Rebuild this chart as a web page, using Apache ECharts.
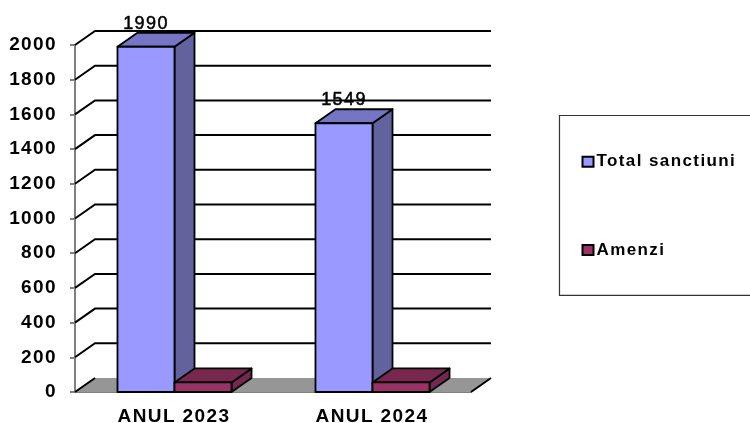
<!DOCTYPE html>
<html>
<head>
<meta charset="utf-8">
<style>html,body{margin:0;padding:0;background:#fff}#c{width:750px;height:423px}</style>
<script>
// The reference text is widely tracked: apply the same tracking to every canvas context.
(function(){var g=HTMLCanvasElement.prototype.getContext;
HTMLCanvasElement.prototype.getContext=function(){var c=g.apply(this,arguments);
if(c&&'letterSpacing' in c){c.letterSpacing='1.4px';}return c;};})();
</script>
<script src="https://cdn.jsdelivr.net/npm/echarts@6/dist/echarts.min.js"></script>
</head>
<body>
<div id="c"></div>
<script>
const categories = ['ANUL 2023', 'ANUL 2024'];
const totalSanctiuni = [1990, 1549];
const amenzi = [55, 55];
const wallTicks = [0, 200, 400, 600, 800, 1000, 1200, 1400, 1600, 1800, 2000];

const DX = 20, DY = -14, BAR_FRACTION = 0.288;
const FONT = '"Liberation Sans", Arial, sans-serif';

function poly(points, fill, stroke, lw) {
  return { type: 'polygon', shape: { points },
    style: { fill: fill, stroke: stroke || null, lineWidth: lw || 0, lineJoin: 'round' } };
}

function wallItem(params, api) {
  const cs = params.coordSys;
  const v = api.value(1);
  const y = api.coord([0, v])[1];
  const x0 = cs.x, x1 = cs.x + cs.width;
  const children = [];
  if (v === 0) {
    children.push(poly([[x0, y], [x0 + DX, y + DY], [x1 + DX, y + DY], [x1, y]], '#969696'));
    children.push({ type: 'line', shape: { x1: x1, y1: y, x2: x1 + DX, y2: y + DY },
      style: { stroke: '#000', lineWidth: 2 } });
  }
  children.push({ type: 'polyline',
    shape: { points: v === 0 ? [[x0, y], [x0 + DX, y + DY]] : [[x0, y], [x0 + DX, y + DY], [x1 + DX, y + DY]] },
    style: { stroke: '#000', lineWidth: 2, fill: null } });
  return { type: 'group', children };
}

function barRenderer(slot, front, top, side, showLabel) {
  return function (params, api) {
    const base = api.coord([api.value(0), 0]);
    const head = api.coord([api.value(0), api.value(1)]);
    const w = api.size([1, 0])[0] * BAR_FRACTION;
    const l = base[0] + slot * w + 0.5, r = l + w;
    const yb = base[1], yt = head[1];
    const s = '#000';
    const children = [
      poly([[r, yb], [r + DX, yb + DY], [r + DX, yt + DY], [r, yt]], side, s, 1.8),
      poly([[l, yt], [l + DX, yt + DY], [r + DX, yt + DY], [r, yt]], top, s, 1.8),
      poly([[l, yb], [l, yt], [r, yt], [r, yb]], front, s, 1.8)
    ];
    if (showLabel) {
      children.push({ type: 'text', x: (l + r) / 2, y: yt - 23,
        style: { text: String(api.value(1)), fill: '#000', font: 'normal 18px ' + FONT,
          stroke: '#000', lineWidth: 0.5,
          textAlign: 'center', textVerticalAlign: 'middle' } });
    }
    return { type: 'group', children };
  };
}

const chart = echarts.init(document.getElementById('c'), null, { renderer: 'canvas' });
chart.setOption({
  animation: false,
  backgroundColor: '#fff',
  grid: { left: 75, right: 279, top: 45, bottom: 31, containLabel: false, outerBoundsMode: 'none' },
  legend: {
    orient: 'vertical', left: 559.5, top: 115.5,
    data: ['Total sanctiuni', 'Amenzi'],
    icon: 'rect', itemWidth: 11, itemHeight: 10, itemGap: 70,
    padding: [37, 30, 36, 22],
    borderColor: '#333', borderWidth: 1.2, backgroundColor: '#fff',
    selectedMode: false,
    itemStyle: { borderColor: '#000', borderWidth: 2 },
    textStyle: { color: '#000', fontWeight: 'bold', fontSize: 17, fontFamily: FONT, padding: [0, 0, 0, -2] }
  },
  xAxis: {
    type: 'category', data: categories,
    axisLine: { lineStyle: { color: '#808080', width: 2 } },
    axisTick: { length: 5, lineStyle: { color: '#808080', width: 2 } },
    axisLabel: { color: '#000', fontWeight: 'bold', fontSize: 19, fontFamily: FONT, margin: 15 },
    splitLine: { show: false }
  },
  yAxis: {
    type: 'value', min: 0, max: 2000, interval: 200,
    axisLine: { show: true, lineStyle: { color: '#808080', width: 2 } },
    axisTick: { show: true, length: 5, lineStyle: { color: '#808080', width: 2 } },
    axisLabel: { color: '#000', fontWeight: 'bold', fontSize: 19, fontFamily: FONT, margin: 18,
      formatter: v => String(v) },
    splitLine: { show: false }
  },
  series: [
    { type: 'custom', name: 'wall', silent: true, clip: false, z: 1,
      encode: { x: 0, y: 1 }, renderItem: wallItem,
      data: wallTicks.map(t => [categories[0], t]) },
    { type: 'custom', name: 'Total sanctiuni', clip: false, z: 3,
      itemStyle: { color: '#9999FF' }, encode: { x: 0, y: 1 },
      renderItem: barRenderer(-1, '#9999FF', '#7575C4', '#62629F', true),
      data: categories.map((c, i) => [c, totalSanctiuni[i]]) },
    { type: 'custom', name: 'Amenzi', clip: false, z: 4,
      itemStyle: { color: '#993366' }, encode: { x: 0, y: 1 },
      renderItem: barRenderer(0, '#993366', '#78284F', '#74284F', false),
      data: categories.map((c, i) => [c, amenzi[i]]) }
  ]
});
</script>
</body>
</html>
